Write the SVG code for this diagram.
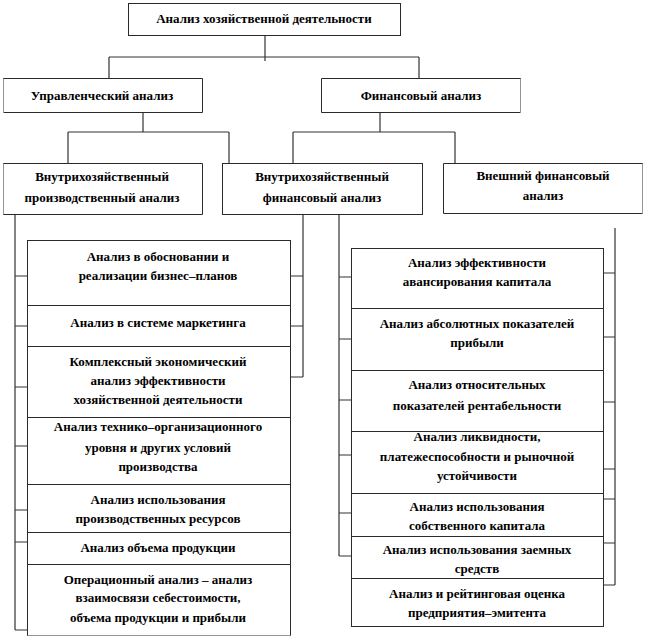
<svg xmlns="http://www.w3.org/2000/svg" width="646" height="639" viewBox="0 0 646 639">
<style>
.b{fill:#fff;stroke:#2a2a2a;stroke-width:1}
.e{fill:none;stroke:#2a2a2a;stroke-width:1}
.d{fill:none;stroke:#2a2a2a;stroke-width:1;stroke-dasharray:1 1}
.c{fill:none;stroke:#333;stroke-width:1.2}
.t text{font-weight:bold;font-size:13px;text-anchor:middle;fill:#000}
</style>
<rect width="646" height="639" fill="#fff"/>
<g id="connectors">
<path class="c" d="M265 35V61M109 57H419M109 57V78M419 57V78"/>
<path class="c" d="M143 112V132M68 132H229M68 132V163M229 132V163"/>
<path class="c" d="M380 112V132M293 132H455M293 132V163M455 132V163"/>
<path class="c" d="M15 209V630M15 276H28M15 326H28M15 387H28M15 446H28M15 510H28M15 542H28M15 630H28"/>
<path class="c" d="M303 214V377M290 276H303M290 326H303M290 377H303"/>
<path class="c" d="M339 214V556M339 277H351M339 339H351M339 400H351M339 455H351M339 513H351M339 556H351"/>
<path class="c" d="M615 228V585M603 273H615M603 337H615M603 402H615M603 469H615M603 499H615M603 543H615M603 585H615"/>
</g>
<g class="t" font-family="Liberation Serif, DejaVu Serif, serif">
<g id="root">
<rect class="b" x="128.5" y="3.5" width="272" height="32"/>
<text x="264" y="23">Анализ хозяйственной деятельности</text>
</g>
<g id="upr">
<rect x="3.5" y="78.5" width="199" height="34" fill="#fff"/>
<path class="e" d="M3.5 78.5H202.5V112.5H3.5"/>
<path class="d" d="M3.5 78.5V112.5"/>
<text x="102" y="100">Управленческий анализ</text>
</g>
<g id="fin">
<rect x="321.5" y="78.5" width="199" height="34" fill="#fff"/>
<path class="e" d="M520.5 78.5H321.5V112.5H520.5"/>
<path class="d" d="M520.5 78.5V112.5"/>
<text x="421" y="100">Финансовый анализ</text>
</g>
<g id="vnutr-proizv">
<rect x="3.5" y="163.5" width="199" height="51" fill="#fff"/>
<path class="e" d="M3.5 163.5H202.5V214.5H3.5"/>
<path class="d" d="M3.5 163.5V214.5"/>
<text x="102" y="181">Внутрихозяйственный</text>
<text x="102" y="202">производственный анализ</text>
</g>
<g id="vnutr-fin">
<rect class="b" x="222.5" y="163.5" width="200" height="51"/>
<text x="322" y="181">Внутрихозяйственный</text>
<text x="322" y="202">финансовый анализ</text>
</g>
<g id="vnesh-fin">
<rect x="443.5" y="163.5" width="199" height="50" fill="#fff"/>
<path class="e" d="M642.5 163.5H443.5V213.5H642.5"/>
<path class="d" d="M642.5 163.5V213.5"/>
<text x="543" y="180">Внешний финансовый</text>
<text x="543" y="200">анализ</text>
</g>
<g id="l1"><rect class="b" x="27.5" y="240.5" width="263" height="65"/>
<text x="158" y="261">Анализ в обосновании и</text><text x="158" y="280">реализации бизнес–планов</text></g>
<g id="l2"><rect class="b" x="27.5" y="305.5" width="263" height="41"/>
<text x="158" y="327">Анализ в системе маркетинга</text></g>
<g id="l3"><rect class="b" x="27.5" y="346.5" width="263" height="71"/>
<text x="158" y="366">Комплексный экономический</text><text x="158" y="385">анализ эффективности</text><text x="158" y="404">хозяйственной деятельности</text></g>
<g id="l4"><rect class="b" x="27.5" y="417.5" width="263" height="67"/>
<text x="158" y="431">Анализ технико–организационного</text><text x="158" y="452">уровня и других условий</text><text x="158" y="471">производства</text></g>
<g id="l5"><rect class="b" x="27.5" y="484.5" width="263" height="48"/>
<text x="158" y="504">Анализ использования</text><text x="158" y="523">производственных ресурсов</text></g>
<g id="l6"><rect class="b" x="27.5" y="532.5" width="263" height="32"/>
<text x="158" y="552">Анализ объема продукции</text></g>
<g id="l7"><rect x="27.5" y="564.5" width="263" height="71" fill="#fff"/>
<path class="e" d="M27.5 635.5V564.5H290.5V635.5"/><path class="d" d="M27.5 635.5H290.5"/>
<text x="158" y="584">Операционный анализ – анализ</text><text x="158" y="602">взаимосвязи себестоимости,</text><text x="158" y="622">объема продукции и прибыли</text></g>
<g id="r1"><rect class="b" x="351.5" y="248.5" width="252" height="60"/>
<text x="477" y="267">Анализ эффективности</text><text x="477" y="286">авансирования капитала</text></g>
<g id="r2"><rect class="b" x="351.5" y="308.5" width="252" height="62"/>
<text x="477" y="328">Анализ абсолютных показателей</text><text x="477" y="347">прибыли</text></g>
<g id="r3"><rect class="b" x="351.5" y="370.5" width="252" height="61"/>
<text x="477" y="389">Анализ относительных</text><text x="477" y="410">показателей рентабельности</text></g>
<g id="r4"><rect class="b" x="351.5" y="431.5" width="252" height="62"/>
<text x="477" y="441">Анализ ликвидности,</text><text x="477" y="461">платежеспособности и рыночной</text><text x="477" y="480">устойчивости</text></g>
<g id="r5"><rect class="b" x="351.5" y="493.5" width="252" height="43"/>
<text x="477" y="511">Анализ использования</text><text x="477" y="530">собственного капитала</text></g>
<g id="r6"><rect class="b" x="351.5" y="536.5" width="252" height="42"/>
<text x="477" y="554">Анализ использования заемных</text><text x="477" y="573">средств</text></g>
<g id="r7"><rect class="b" x="351.5" y="578.5" width="252" height="48"/>
<text x="477" y="598">Анализ и рейтинговая оценка</text><text x="477" y="617">предприятия–эмитента</text></g>
</g>
</svg>
